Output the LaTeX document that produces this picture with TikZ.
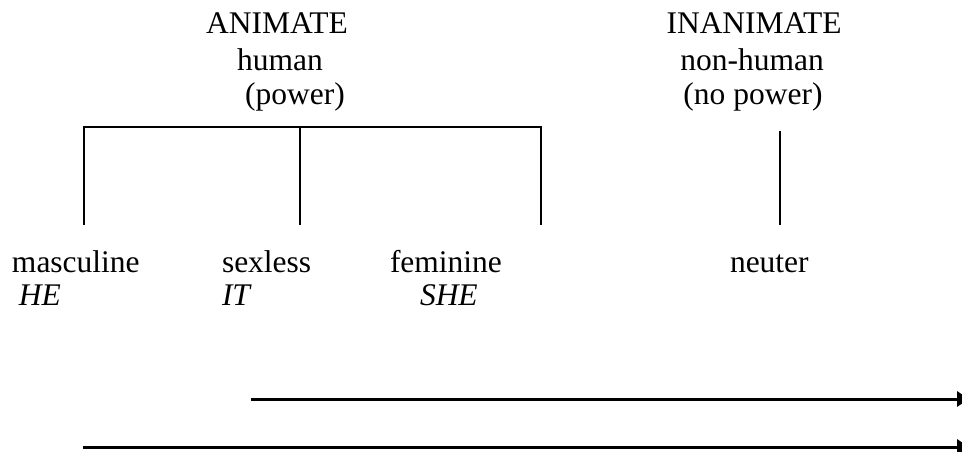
\documentclass[tikz,border=0pt]{standalone}
\usepackage{fontspec}
\setmainfont{Liberation Serif}
\usetikzlibrary{arrows.meta}
\tikzset{
  lbl/.style={inner sep=0pt, outer sep=0pt, font=\fontsize{31.5}{35}\selectfont},
  toplbl/.style={lbl, anchor=base},
  botlbl/.style={lbl, anchor=base west},
  branch/.style={line width=2pt, line cap=rect},
  timeline/.style={line width=3pt, -{Triangle[length=12pt,width=15pt]}}
}
\begin{document}
\begin{tikzpicture}[x=1pt,y=-1pt]
\useasboundingbox (0,0) rectangle (962,452);
\clip (0,0) rectangle (962,452);
\fill[white] (0,0) rectangle (962,452);
% top labels
\node[toplbl] (anim)  at (277,34)  {ANIMATE};
\node[toplbl] (hum)   at (280,71)  {human};
\node[toplbl] (pow)   at (295,105) {(power)};
\node[toplbl] (inan)  at (754,34)  {INANIMATE};
\node[toplbl] (nhum)  at (752,71)  {non-human};
\node[toplbl] (npow)  at (753,105) {(no power)};
% bottom labels
\node[botlbl] (masc) at (12,272)  {masculine};
\node[botlbl] (he)   at (19,305)  {\itshape HE};
\node[botlbl] (sexl) at (222,272) {sexless};
\node[botlbl] (it)   at (222,305) {\itshape IT};
\node[botlbl] (fem)  at (390,272) {feminine};
\node[botlbl] (she)  at (420,305) {\itshape SHE};
\node[botlbl] (neut) at (730,272) {neuter};
% tree coordinates
\coordinate (tl) at (84,127);
\coordinate (tm) at (300,127);
\coordinate (tr) at (541,127);
\coordinate (bl) at (84,224);
\coordinate (bm) at (300,224);
\coordinate (br) at (541,224);
\coordinate (nt) at (780,132);
\coordinate (nb) at (780,224);
\draw[branch] (bl) -- (tl) -- (tr) -- (br);
\draw[branch] (tm) -- (bm);
\draw[branch] (nt) -- (nb);
% arrows
\coordinate (a1s) at (251,399);
\coordinate (a1e) at (969,399);
\coordinate (a2s) at (83,447);
\coordinate (a2e) at (969,447);
\draw[timeline] (a1s) -- (a1e);
\draw[timeline] (a2s) -- (a2e);
\end{tikzpicture}
\end{document}
